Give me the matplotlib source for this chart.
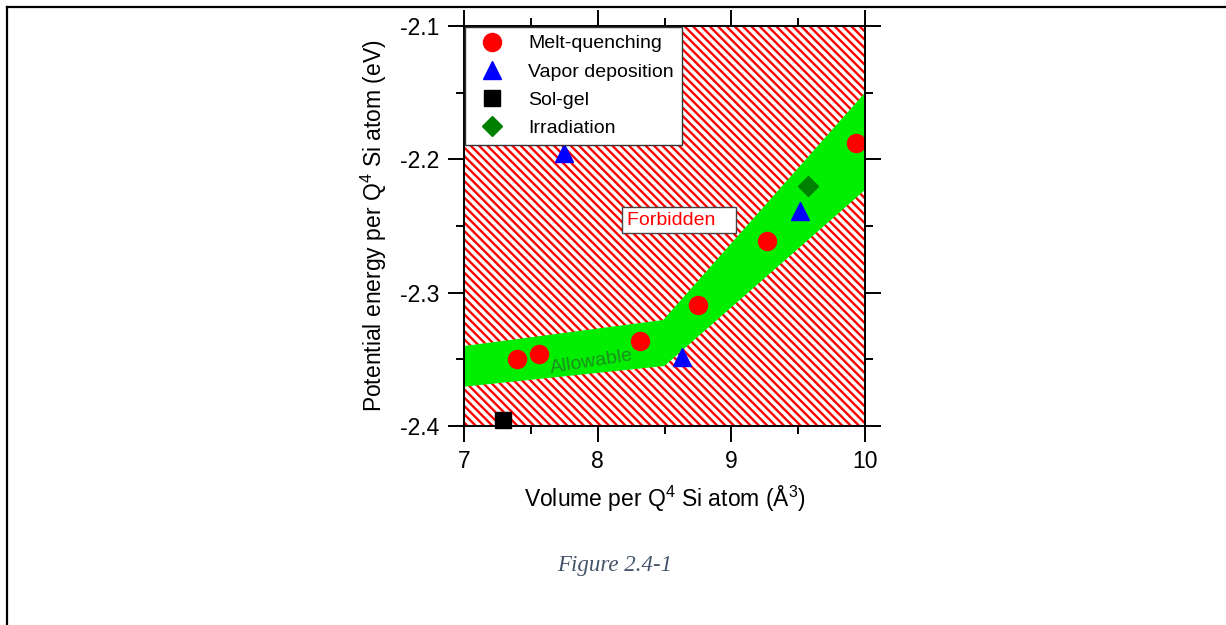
import matplotlib
matplotlib.use("Agg")
import matplotlib.pyplot as plt
from matplotlib.lines import Line2D
from matplotlib.patches import Polygon, Rectangle

plt.rcParams['font.family'] = ['Liberation Sans', 'DejaVu Sans']
plt.rcParams['mathtext.fontset'] = 'custom'
plt.rcParams['mathtext.rm'] = 'Liberation Sans'
plt.rcParams['mathtext.it'] = 'Liberation Sans:italic'
plt.rcParams['hatch.linewidth'] = 1.7

# structures grouped by preparation route
melt_x = [7.40, 7.56, 8.32, 8.75, 9.27, 9.93]
melt_y = [-2.350, -2.346, -2.336, -2.309, -2.261, -2.188]
vapor_x = [7.75, 8.63, 9.51]
vapor_y = [-2.195, -2.348, -2.239]
solgel_x = [7.29]
solgel_y = [-2.3955]
irrad_x = [9.57]
irrad_y = [-2.220]

# allowable band: upper edge left->right, lower edge right->left
band_x = [7.0, 8.49, 10.0, 10.0, 8.50, 7.0]
band_y = [-2.340, -2.3205, -2.150, -2.223, -2.355, -2.3705]

fig = plt.figure(figsize=(12.26, 6.25), dpi=100)
ax = fig.add_axes([464/1226, 1 - 426/625, 401/1226, 400/625])

# forbidden region: red stripes over the whole frame
ax.add_patch(Rectangle((7.0, -2.4), 3.0, 0.3, facecolor='white', edgecolor='red',
                       linewidth=0, hatch='\\\\\\\\', zorder=0))
ax.add_patch(Polygon(list(zip(band_x, band_y)), closed=True, facecolor='#00ee00',
                     edgecolor='none', zorder=1))

ax.plot(melt_x, melt_y, 'o', color='red', markersize=13, linestyle='none',
        label='Melt-quenching', zorder=3)
ax.plot(vapor_x, vapor_y, '^', color='blue', markersize=13, linestyle='none',
        label='Vapor deposition', zorder=3)
ax.plot(solgel_x, solgel_y, 's', color='black', markersize=11, linestyle='none',
        label='Sol-gel', zorder=3, clip_on=False)
ax.plot(irrad_x, irrad_y, 'D', color='green', markersize=10, linestyle='none',
        label='Irradiation', zorder=3)

ax.text(8.22, -2.2455, 'Forbidden   ', color='red', fontsize=14, ha='left', va='center',
        zorder=4, bbox=dict(boxstyle='square,pad=0.25', facecolor='white',
                            edgecolor='#444444', linewidth=1))
ax.text(7.955, -2.352, 'Allowable', color='#1f8f1f', fontsize=14, ha='center',
        va='center', rotation=9, zorder=4)

ax.set_xlim(7, 10)
ax.set_ylim(-2.4, -2.1)
ax.set_xticks([7, 8, 9, 10])
ax.set_xticks([7.5, 8.5, 9.5], minor=True)
ax.set_yticks([-2.4, -2.3, -2.2, -2.1])
ax.set_yticks([-2.35, -2.25, -2.15], minor=True)
ax.set_yticklabels(['-2.4', '-2.3', '-2.2', '-2.1'])
ax.tick_params(which='both', direction='out', top=True, right=True, width=1.4,
               labelsize=16.5, pad=6)
ax.tick_params(which='major', length=11.5)
ax.tick_params(which='minor', length=5.5)
for s in ax.spines.values():
    s.set_linewidth(1.4)
    s.set_zorder(5)

ax.set_xlabel('Volume per Q$^4$ Si atom (Å$^3$)', fontsize=16.5)
ax.set_ylabel('Potential energy per Q$^4$ Si atom (eV)', fontsize=16.5)
ax.xaxis.set_label_coords(0.5, -0.145)
ax.yaxis.set_label_coords(-0.187, 0.5)

leg = ax.legend(loc='upper left', bbox_to_anchor=(0, 1), borderaxespad=0.05,
                fontsize=14, frameon=True, fancybox=False, framealpha=1,
                edgecolor='#333333', borderpad=0.4, labelspacing=0.55,
                handlelength=2.0, handletextpad=0.85)
leg.get_frame().set_linewidth(1)
leg.set_zorder(6)

fig.text(615/1226, 1 - 565/625, 'Figure 2.4-1', family='Liberation Serif',
         style='italic', color='#44546A', fontsize=16.5, ha='center', va='center')

# page border lines
fig.add_artist(Line2D([7/1226, 7/1226], [0, 1 - 7/625], color='black', linewidth=1.6))
fig.add_artist(Line2D([7/1226, 1], [1 - 7/625, 1 - 7/625], color='black', linewidth=1.6))

fig.savefig('out.png', dpi=100)
